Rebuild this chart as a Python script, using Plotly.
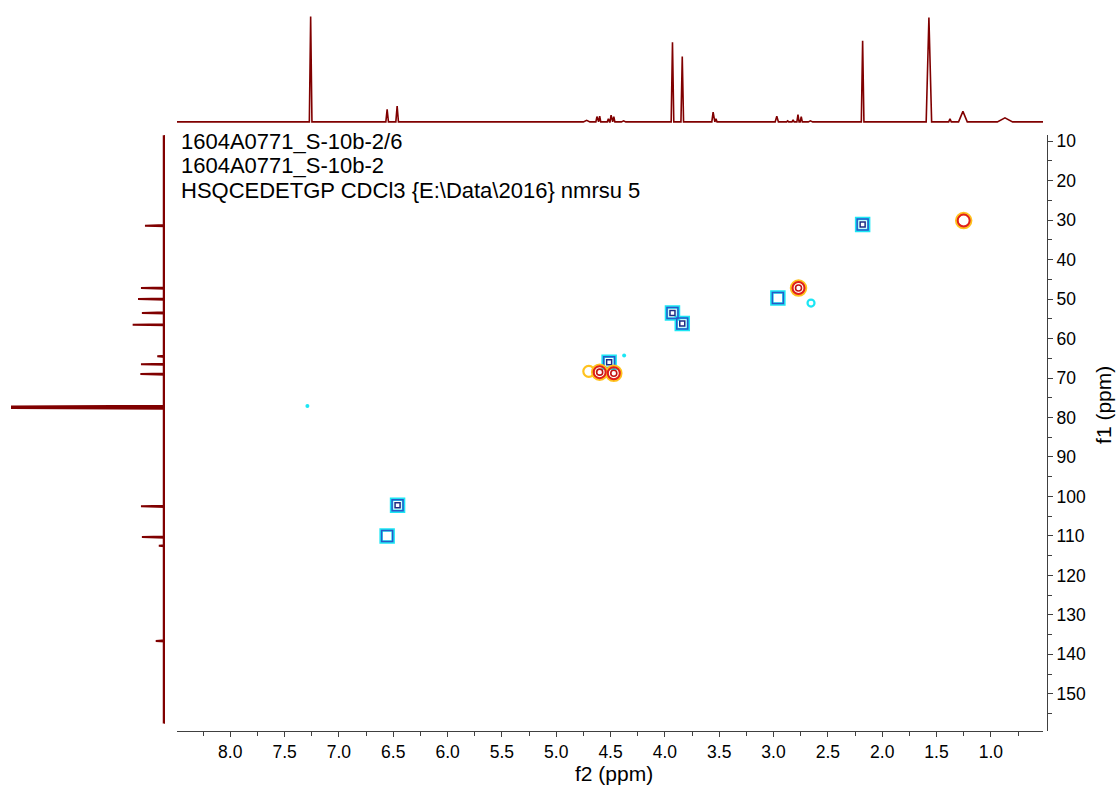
import plotly.graph_objects as go

W, H = 1116, 785

# ---------------- data ----------------
# 1H projection (top): peak position (ppm), relative height, half base width (ppm)
h_pos = [7.26, 6.556, 6.464, 4.72, 4.625, 4.60, 4.52, 4.495, 4.47, 4.38,
         3.93, 3.84, 3.556, 3.53, 2.97, 2.87, 2.82, 2.775, 2.745, 2.66,
         2.18, 1.57, 1.376, 1.257, 0.87]
h_int = [100, 12, 15, 1.5, 5, 5.5, 3, 6.3, 5, 1,
         75.5, 62, 9.2, 3, 5.4, 1, 2, 7, 5, 1,
         77, 99, 2.8, 10, 3.8]
h_wid = [0.012, 0.012, 0.012, 0.03, 0.01, 0.01, 0.01, 0.01, 0.01, 0.02,
         0.012, 0.012, 0.012, 0.01, 0.015, 0.01, 0.01, 0.01, 0.01, 0.02,
         0.012, 0.025, 0.012, 0.04, 0.07]
h_range = [8.49, 0.52]

# 13C projection (left): peak position (ppm), relative height
c_pos = [31.4, 47.2, 50.0, 53.5, 56.5, 64.5, 66.5, 69.0, 77.2, 77.6,
         102.5, 110.3, 112.5, 136.6]
c_int = [13, 15.6, 17.5, 15, 21, 5, 15.6, 16, 100, 100,
         15.6, 15, 4, 6]
c_range = [8.0, 157.5]

# HSQC cross peaks: f2 (1H), f1 (13C), number of contour levels
neg_x = [6.556, 6.46, 4.513, 3.93, 3.84, 2.96, 2.18]
neg_y = [110.0, 102.2, 66.0, 53.5, 56.2, 49.7, 31.1]
neg_lv = [2, 3, 3, 3, 3, 2, 3]
weak_neg_x = [4.375, 7.29]
weak_neg_y = [64.3, 77.1]
small_neg_x = [2.655]
small_neg_y = [51.0]

pos_x = [4.60, 4.47, 2.77, 1.25]
pos_y = [68.5, 68.8, 47.2, 30.1]
pos_lv = [3, 3, 3, 2]
weak_pos_x = [4.70]
weak_pos_y = [68.3]

x_range = [8.49, 0.52]
y_range = [159.5, 8.5]

header = ["1604A0771_S-10b-2/6", "1604A0771_S-10b-2",
          "HSQCEDETGP CDCl3 {E:\\Data\\2016} nmrsu 5"]

# ---------------- styling ----------------
FONT = "Liberation Sans, Arial, sans-serif"
SPEC = "#800000"
CYAN = "#1CE6F4"
BLUE = "#2A58C8"
NAVY = "#1C2C84"
ORANGE = "#FFC21E"
RED = "#E01E1E"
DRED = "#C01414"


def px_x(p):
    return p / W


def px_y(p):
    return 1 - p / H


# build 1H stick polyline (descending ppm)
order = sorted(range(len(h_pos)), key=lambda i: -h_pos[i])
hx = [h_range[0]]
hy = [0]
for i in order:
    hx += [h_pos[i] + h_wid[i], h_pos[i], h_pos[i] - h_wid[i]]
    hy += [0, h_int[i], 0]
hx.append(h_range[1])
hy.append(0)

# build 13C stick polyline (along f1)
cy = [c_range[0]]
cx = [0]
for p, v in sorted(zip(c_pos, c_int)):
    cy += [p - 0.15, p, p, p + 0.15]
    cx += [0, v, v, 0]
cy.append(c_range[1])
cx.append(0)

fig = go.Figure()

# top projection
fig.add_trace(go.Scatter(x=hx, y=hy, mode="lines", xaxis="x2", yaxis="y2",
                         line=dict(color=SPEC, width=1.6), hoverinfo="skip"))
# left projection: baseline band + sticks
fig.add_trace(go.Scatter(x=[0, 0], y=c_range, mode="lines", xaxis="x3", yaxis="y3",
                         line=dict(color=SPEC, width=4.5), hoverinfo="skip"))
fig.add_trace(go.Scatter(x=cx, y=cy, mode="lines", xaxis="x3", yaxis="y3",
                         line=dict(color=SPEC, width=2), hoverinfo="skip"))


def layer(xs, ys, symbol, size, width, color):
    fig.add_trace(go.Scatter(
        x=xs, y=ys, mode="markers", xaxis="x", yaxis="y", hoverinfo="skip",
        marker=dict(symbol=symbol, size=size, color=color,
                    line=dict(color=color, width=width))))


# negative (CH2) peaks
layer(neg_x, neg_y, "square-open", 12, 3.5, CYAN)
layer(neg_x, neg_y, "square-open", 11, 1.5, BLUE)
n3x = [x for x, l in zip(neg_x, neg_lv) if l >= 3]
n3y = [y for y, l in zip(neg_y, neg_lv) if l >= 3]
layer(n3x, n3y, "square-open", 5, 1.5, NAVY)
layer(small_neg_x, small_neg_y, "circle-open", 7, 2.2, CYAN)
fig.add_trace(go.Scatter(x=weak_neg_x, y=weak_neg_y, mode="markers", hoverinfo="skip",
                         marker=dict(symbol="circle", size=4, color=CYAN)))

# positive (CH/CH3) peaks
layer(weak_pos_x, weak_pos_y, "circle-open", 11, 2.2, ORANGE)
layer(pos_x, pos_y, "circle-open", 14, 3.5, ORANGE)
layer(pos_x, pos_y, "circle-open", 12, 2.0, RED)
p3x = [x for x, l in zip(pos_x, pos_lv) if l >= 3]
p3y = [y for y, l in zip(pos_y, pos_lv) if l >= 3]
layer(p3x, p3y, "circle-open", 6, 1.6, DRED)

tickfont = dict(family=FONT, size=17.5, color="#000000")
main_xdom = [px_x(177), px_x(1043)]
main_ydom = [px_y(731), px_y(132)]

fig.update_layout(
    width=W, height=H,
    margin=dict(l=0, r=0, t=0, b=0),
    paper_bgcolor="white", plot_bgcolor="white",
    showlegend=False,
    xaxis=dict(domain=main_xdom, range=x_range, anchor="y",
               showgrid=False, zeroline=False, showline=True,
               linecolor="#404040", linewidth=1,
               ticks="outside", ticklen=5, tickcolor="#404040",
               tick0=0, dtick=0.5, tickformat=".1f", tickfont=tickfont,
               minor=dict(ticks="outside", ticklen=4, dtick=0.25, tick0=0,
                          tickcolor="#404040")),
    yaxis=dict(domain=main_ydom, range=y_range, anchor="free",
               position=px_x(1047), side="right",
               showgrid=False, zeroline=False, showline=True,
               linecolor="#404040", linewidth=1,
               ticks="outside", ticklen=5, tickcolor="#404040",
               tick0=0, dtick=10, tickfont=tickfont,
               minor=dict(ticks="outside", ticklen=4, dtick=5, tick0=0,
                          tickcolor="#404040")),
    xaxis2=dict(domain=main_xdom, range=x_range, anchor="y2", visible=False),
    yaxis2=dict(domain=[px_y(120.6), px_y(10.4)], range=[-2, 102], anchor="x2",
                visible=False),
    xaxis3=dict(domain=[px_x(11), px_x(165)], range=[100, 0], anchor="y3",
                visible=False),
    yaxis3=dict(domain=main_ydom, range=y_range, anchor="x3", visible=False),
)

annots = []
for i, t in enumerate(header):
    annots.append(dict(text=t, x=px_x(179), y=px_y(138 + 24.5 * i), xref="paper",
                       yref="paper", xanchor="left", yanchor="middle",
                       showarrow=False, font=dict(family=FONT, size=22, color="#000")))
annots.append(dict(text="f2 (ppm)", x=px_x(614), y=px_y(773), xref="paper", yref="paper",
                   xanchor="center", yanchor="middle", showarrow=False,
                   font=dict(family=FONT, size=21, color="#000")))
annots.append(dict(text="f1 (ppm)", x=px_x(1104), y=px_y(403), xref="paper", yref="paper",
                   xanchor="center", yanchor="middle", textangle=-90, showarrow=False,
                   font=dict(family=FONT, size=21, color="#000")))
fig.update_layout(annotations=annots)

fig.write_html("out.html")
